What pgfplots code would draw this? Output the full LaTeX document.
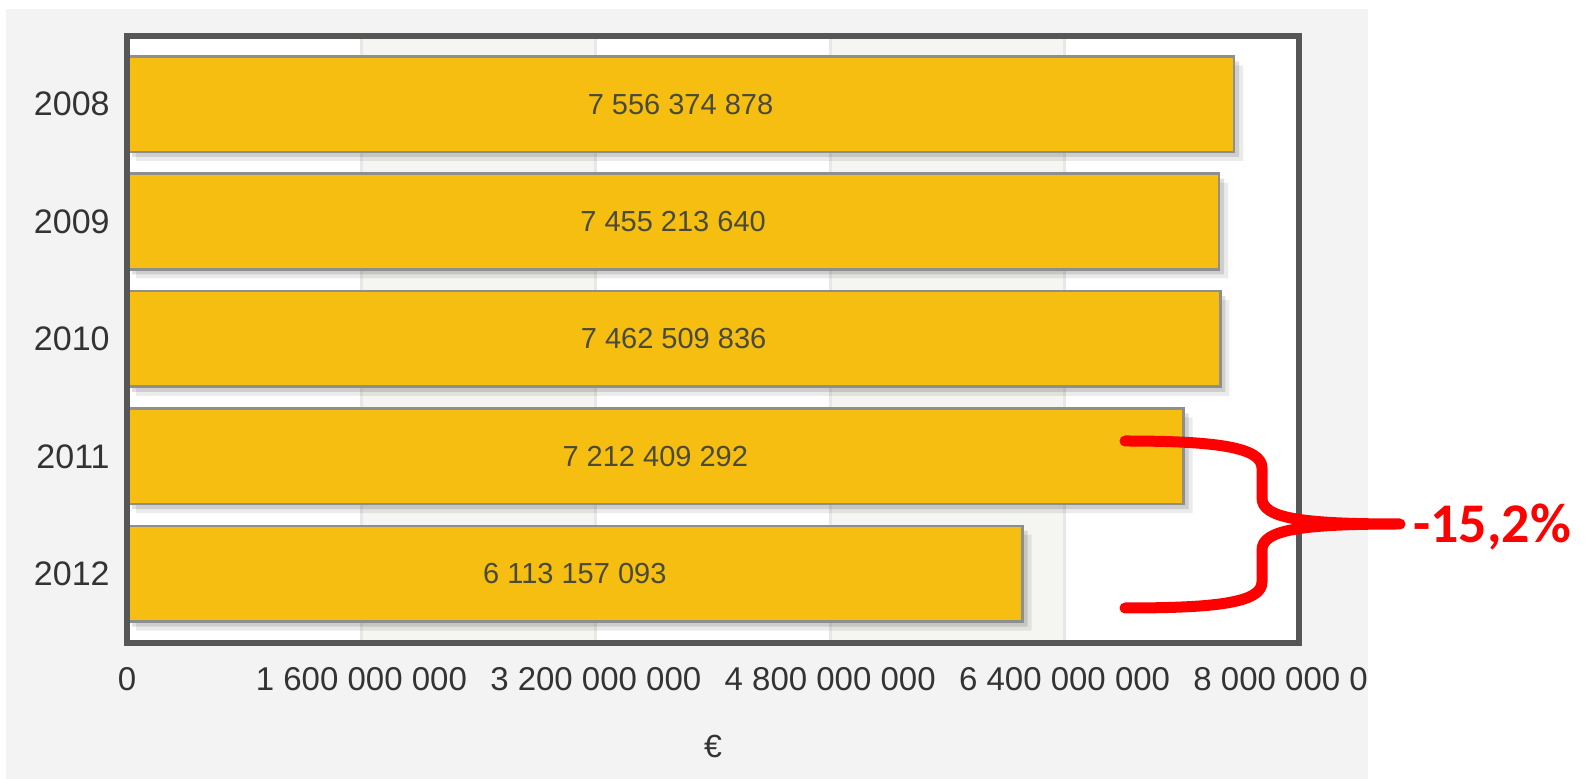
\documentclass[border=0pt]{standalone}
\usepackage{fontspec}
\setmainfont{Liberation Sans}
\newfontfamily\calibri{Carlito}
\usepackage{pgfplots}
\usepackage{pgfplotstable}
\pgfplotsset{compat=1.18}
\definecolor{panel}{HTML}{F3F3F3}
\definecolor{band}{HTML}{F5F5F1}
\definecolor{gridgray}{HTML}{E8E8E6}
\definecolor{barfill}{HTML}{F5BE10}
\definecolor{barborder}{HTML}{8E8E8E}
\definecolor{frame}{HTML}{565656}
\definecolor{txt}{HTML}{333333}
\definecolor{lbl}{HTML}{4A4A3A}

\pgfplotstableread{
y v lab
0 7556374878 7~556~374~878
1 7455213640 7~455~213~640
2 7462509836 7~462~509~836
3 7212409292 7~212~409~292
4 6113157093 6~113~157~093
}\datatable

\begin{document}
\begin{tikzpicture}
\begin{scope}[x=0.5pt,y=-0.5pt]
\useasboundingbox (0,0) rectangle (1585,779);
\fill[panel] (6,9) rectangle (1368,779);
\end{scope}
\begin{axis}[
  at={(63.5pt,-321.5pt)}, anchor=south west,
  scale only axis, width=586pt, height=303.5pt,
  axis on top,
  y dir=reverse,
  xmin=0, xmax=8e9, ymin=-0.58, ymax=4.59,
  xtick={0,1.6e9,3.2e9,4.8e9,6.4e9,8e9},
  xticklabels={0,1~600~000~000,3~200~000~000,4~800~000~000,6~400~000~000,8~000~000~000},
  ytick={0,1,2,3,4}, yticklabels={2008,2009,2010,2011,2012},
  scaled x ticks=false,
  tick style={draw=none},
  axis line style={frame, line width=3pt},
  axis background/.style={fill=white},
  ticklabel style={text=txt},
  xticklabel style={anchor=center, yshift=-18pt, font=\fontsize{16.5}{19}\selectfont},
  yticklabel style={anchor=east, inner sep=0pt, xshift=-8.5pt, font=\fontsize{17}{20}\selectfont},
  xlabel={€},
  xlabel style={at={(axis description cs:0.5,0)}, anchor=center, yshift=-51.5pt, font=\fontsize{16}{19}\selectfont, text=txt},
]
\fill[band] (axis cs:1.6e9,-0.58) rectangle (axis cs:3.2e9,4.59);
\fill[band] (axis cs:4.8e9,-0.58) rectangle (axis cs:6.4e9,4.59);
\draw[gridgray, line width=1.5pt] (axis cs:1.6e9,-0.58) -- (axis cs:1.6e9,4.59);
\draw[gridgray, line width=1.5pt] (axis cs:3.2e9,-0.58) -- (axis cs:3.2e9,4.59);
\draw[gridgray, line width=1.5pt] (axis cs:4.8e9,-0.58) -- (axis cs:4.8e9,4.59);
\draw[gridgray, line width=1.5pt] (axis cs:6.4e9,-0.58) -- (axis cs:6.4e9,4.59);
\addplot[xbar, bar shift=0pt, bar width=0.815, fill=black, fill opacity=0.08, draw=none, xshift=4.5pt, yshift=-4.5pt, forget plot] table[x=v, y=y] {\datatable};
\addplot[xbar, bar shift=0pt, bar width=0.815, fill=black, fill opacity=0.12, draw=none, xshift=2.5pt, yshift=-2.5pt, forget plot] table[x=v, y=y] {\datatable};
\addplot[xbar, bar shift=0pt, bar width=0.815, fill=barfill, draw=barborder, line width=1.3pt] table[x=v, y=y] {\datatable};
\addplot[xbar, bar shift=0pt, bar width=0.815, draw=none, fill=none,
  nodes near coords, point meta=explicit symbolic,
  nodes near coords style={anchor=center, font=\fontsize{14.5}{17}\selectfont, text=lbl}]
  table[x expr=\thisrow{v}/2, y=y, meta=lab] {\datatable};
\end{axis}
\begin{scope}[x=0.5pt,y=-0.5pt]
\fill[white] (1368,648) rectangle (1460,712);
\draw[red, line width=5.5pt, line cap=round, line join=round]
  (1125,441) .. controls (1215,441) and (1262,447) .. (1262,468)
  -- (1262,498) .. controls (1262,518) and (1300,524) .. (1400,524)
  .. controls (1300,524) and (1262,530) .. (1262,550)
  -- (1262,582) .. controls (1262,603) and (1215,608) .. (1125,608);
\node[red, font=\calibri\bfseries\fontsize{28}{32}\selectfont, anchor=west, inner sep=0pt] at (1413,527) {-15,2\%};
\end{scope}
\end{tikzpicture}
\end{document}
